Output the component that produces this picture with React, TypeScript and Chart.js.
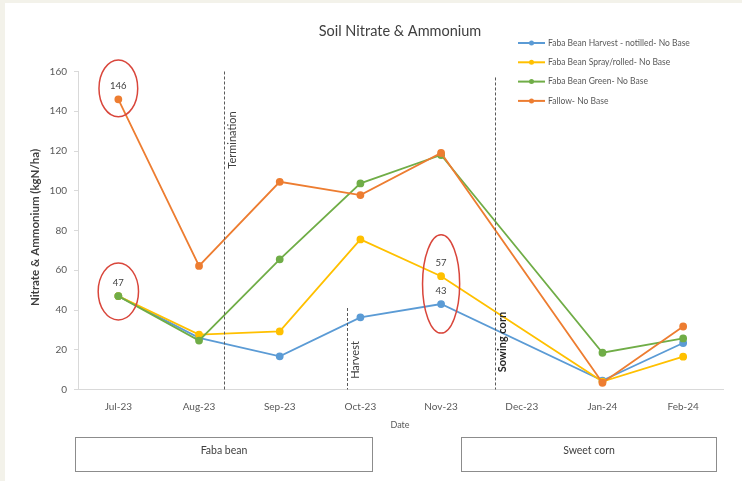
import React, { useEffect, useRef } from "react";
import { Chart, registerables } from "chart.js";

Chart.register(...registerables);

// Sampling months on the category axis
const months = ["Jul-23", "Aug-23", "Sep-23", "Oct-23", "Nov-23", "Dec-23", "Jan-24", "Feb-24"];

// Soil nitrate + ammonium (kgN/ha); Dec-23 was not sampled
const harvestNotilled = [47, 26, 16.7, 36.3, 43, null, 4.5, 23.4];
const sprayRolled = [47, 27.6, 29.2, 75.5, 57, null, 4, 16.5];
const greenManure = [47, 24.6, 65.5, 103.7, 118, null, 18.5, 25.7];
const fallow = [146, 62.2, 104.5, 97.8, 119, null, 3.4, 31.7];

const seriesNames = [
  "Faba Bean Harvest - notilled- No Base",
  "Faba Bean Spray/rolled- No Base",
  "Faba Bean Green- No Base",
  "Fallow- No Base",
];
const seriesColors = ["#5B9BD5", "#FFC000", "#70AD47", "#ED7D31"];

// Y axis ticks
const yMin = 0;
const yMax = 160;
const yStep = 20;

// Management events: name, position along the month axis (fractional index), top of marker line (kgN/ha)
const eventNames = ["Termination", "Harvest", "Sowing corn"];
const eventIndex = [1.31, 2.84, 4.665];
const eventTop = [160, 41, 157];
const eventBold = [false, false, true];

// Values called out with a label: [series, month]
const labelledPoints = [
  [3, 0],
  [0, 0],
  [1, 4],
  [0, 4],
];

// Red rings: centre (month index, kgN/ha) and radii (month units, kgN/ha)
const ringX = [0, 0, 4];
const ringY = [151.5, 49.3, 53.1];
const ringRx = [0.24, 0.25, 0.23];
const ringRy = [14.3, 14.3, 24.7];

// Crop phase boxes below the axis, spanning month indices
const phaseNames = ["Faba bean", "Sweet corn"];
const phaseFrom = [-0.54, 4.25];
const phaseTo = [3.14, 7.41];

const FONT = 'Lato, "Liberation Sans", Arial, sans-serif';

export default function App() {
  const canvasRef = useRef<HTMLCanvasElement | null>(null);

  useEffect(() => {
    const canvas = canvasRef.current;
    if (!canvas) return;

    const valueSets = [harvestNotilled, sprayRolled, greenManure, fallow];

    const decorations = {
      id: "decorations",
      beforeDraw(chart: any) {
        const { ctx, width, height } = chart;
        ctx.save();
        ctx.fillStyle = "#F3F2EA";
        ctx.fillRect(0, 0, width, height);
        ctx.fillStyle = "#FFFFFF";
        ctx.fillRect(5, 3, width - 5, height - 3);
        ctx.restore();
      },
      afterDatasetsDraw(chart: any) {
        const { ctx } = chart;
        const xs = chart.scales.x;
        const ys = chart.scales.y;
        const step = xs.getPixelForValue(1) - xs.getPixelForValue(0);
        const xAt = (i: number) => xs.getPixelForValue(0) + i * step;

        // event marker lines and rotated labels
        ctx.save();
        for (let i = 0; i < eventNames.length; i++) {
          const x = Math.round(xAt(eventIndex[i])) + 0.5;
          ctx.strokeStyle = "#595959";
          ctx.lineWidth = 1;
          ctx.setLineDash([3, 2]);
          ctx.beginPath();
          ctx.moveTo(x, ys.getPixelForValue(eventTop[i]));
          ctx.lineTo(x, ys.getPixelForValue(0));
          ctx.stroke();
          ctx.setLineDash([]);
        }
        ctx.restore();

        const textCenters = [140, 360, 342];
        for (let i = 0; i < eventNames.length; i++) {
          const x = xAt(eventIndex[i]) + 8;
          ctx.save();
          ctx.translate(x, textCenters[i]);
          ctx.rotate(-Math.PI / 2);
          ctx.fillStyle = eventBold[i] ? "#262626" : "#404040";
          ctx.font = `${eventBold[i] ? "bold " : ""}11px ${FONT}`;
          ctx.textAlign = "center";
          ctx.textBaseline = "middle";
          ctx.fillText(eventNames[i], 0, 0);
          ctx.restore();
        }

        // value labels
        ctx.save();
        ctx.fillStyle = "#404040";
        ctx.font = `9.5px ${FONT}`;
        ctx.textAlign = "center";
        ctx.textBaseline = "middle";
        for (const [s, m] of labelledPoints) {
          const v = valueSets[s][m] as number;
          ctx.fillText(String(v), xs.getPixelForValue(m), ys.getPixelForValue(v) - 13);
        }
        ctx.restore();

        // red rings
        ctx.save();
        ctx.strokeStyle = "#D9463B";
        ctx.lineWidth = 1.5;
        const pxPerUnit = ys.getPixelForValue(0) - ys.getPixelForValue(1);
        for (let i = 0; i < ringX.length; i++) {
          ctx.beginPath();
          ctx.ellipse(
            xAt(ringX[i]),
            ys.getPixelForValue(ringY[i]),
            ringRx[i] * step,
            ringRy[i] * pxPerUnit,
            0,
            0,
            Math.PI * 2
          );
          ctx.stroke();
        }
        ctx.restore();
      },
      afterDraw(chart: any) {
        const { ctx, chartArea } = chart;
        const xs = chart.scales.x;
        const step = xs.getPixelForValue(1) - xs.getPixelForValue(0);
        const xAt = (i: number) => xs.getPixelForValue(0) + i * step;

        ctx.save();
        // title
        ctx.fillStyle = "#404040";
        ctx.font = `14.5px ${FONT}`;
        ctx.textAlign = "center";
        ctx.textBaseline = "middle";
        ctx.fillText("Soil Nitrate & Ammonium", 400, 31);

        // legend
        ctx.font = `8.5px ${FONT}`;
        ctx.textAlign = "left";
        for (let i = 0; i < seriesNames.length; i++) {
          const y = 43 + i * 19.3;
          ctx.strokeStyle = seriesColors[i];
          ctx.lineWidth = 2;
          ctx.beginPath();
          ctx.moveTo(518, y);
          ctx.lineTo(545, y);
          ctx.stroke();
          ctx.fillStyle = seriesColors[i];
          ctx.beginPath();
          ctx.arc(531.5, y, 2.5, 0, Math.PI * 2);
          ctx.fill();
          ctx.fillStyle = "#595959";
          ctx.fillText(seriesNames[i], 548, y);
        }

        // y axis title
        ctx.save();
        ctx.translate(35, (chartArea.top + chartArea.bottom) / 2 - 3);
        ctx.rotate(-Math.PI / 2);
        ctx.fillStyle = "#404040";
        ctx.font = `bold 11.5px ${FONT}`;
        ctx.textAlign = "center";
        ctx.fillText("Nitrate & Ammonium (kgN/ha)", 0, 0);
        ctx.restore();

        // x axis title
        ctx.fillStyle = "#595959";
        ctx.font = `9px ${FONT}`;
        ctx.textAlign = "center";
        ctx.fillText("Date", 400, 425);

        // crop phase boxes
        for (let i = 0; i < phaseNames.length; i++) {
          const l = Math.round(xAt(phaseFrom[i])) + 0.5;
          const r = Math.round(xAt(phaseTo[i])) + 0.5;
          ctx.strokeStyle = "#8C8C8C";
          ctx.lineWidth = 1;
          ctx.strokeRect(l, 437.5, r - l, 34);
          ctx.fillStyle = "#404040";
          ctx.font = `10.5px ${FONT}`;
          ctx.fillText(phaseNames[i], (l + r) / 2, 451);
        }
        ctx.restore();
      },
    };

    const chart = new Chart(canvas, {
      type: "line",
      data: {
        labels: months,
        datasets: valueSets.map((values, i) => ({
          label: seriesNames[i],
          data: values,
          borderColor: seriesColors[i],
          backgroundColor: seriesColors[i],
          pointBackgroundColor: seriesColors[i],
          pointBorderColor: seriesColors[i],
          borderWidth: 1.8,
          pointRadius: 3,
          tension: 0,
          spanGaps: true,
          order: 3 - i,
        })),
      },
      options: {
        responsive: false,
        animation: false,
        devicePixelRatio: 1,
        layout: { padding: { left: 0, top: 71.5, right: 18.5, bottom: 0 } },
        plugins: {
          legend: { display: false },
          title: { display: false },
          tooltip: { enabled: false },
        },
        scales: {
          x: {
            offset: true,
            grid: { display: false, drawTicks: false },
            border: { display: true, color: "#D9D9D9", width: 1 },
            ticks: { color: "#595959", font: { family: FONT, size: 10 }, padding: 11, maxRotation: 0 },
            afterFit(scale: any) {
              scale.height = 91.5;
            },
          },
          y: {
            min: yMin,
            max: yMax,
            grid: { display: true, drawOnChartArea: false, drawTicks: true, tickLength: 4, color: "#D9D9D9" },
            border: { display: true, color: "#D9D9D9", width: 1 },
            ticks: { stepSize: yStep, color: "#595959", font: { family: FONT, size: 10 }, padding: 7 },
            afterFit(scale: any) {
              scale.width = 78;
            },
          },
        },
      },
      plugins: [decorations],
    });

    return () => chart.destroy();
  }, []);

  return (
    <div style={{ position: "fixed", left: 0, top: 0, width: 742, height: 481 }}>
      <canvas ref={canvasRef} width={742} height={481} style={{ width: 742, height: 481, display: "block" }} />
    </div>
  );
}
